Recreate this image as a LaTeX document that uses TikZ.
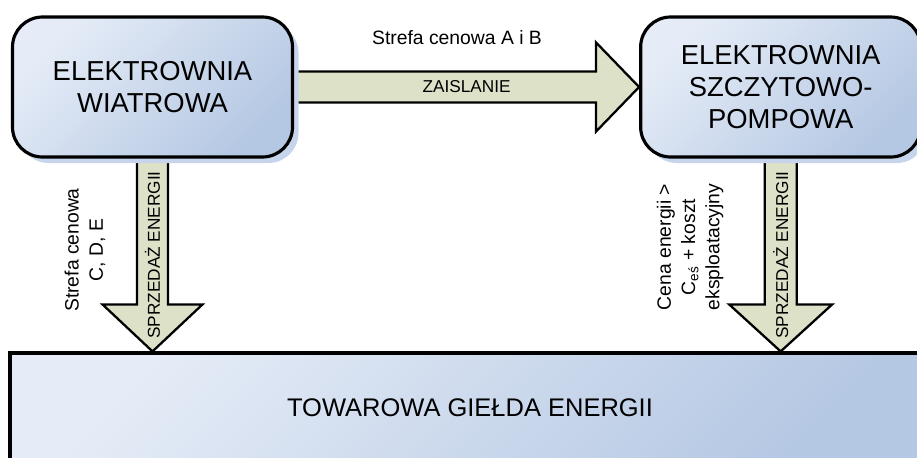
\documentclass[tikz,border=0pt]{standalone}
\usepackage{fontspec}
\setmainfont{Liberation Sans}
\usetikzlibrary{positioning,calc,shadows,backgrounds}

\definecolor{boxlight}{RGB}{229,236,247}
\definecolor{boxdark}{RGB}{181,200,227}
\definecolor{arrowfill}{RGB}{221,225,199}
\definecolor{shadowblue}{RGB}{198,213,236}

\tikzset{
  plant/.style={draw, line width=1.8pt, rounded corners=0.6cm,
    minimum width=5.6cm, minimum height=2.8cm, align=center,
    top color=boxlight, bottom color=boxdark, shading angle=45,
    font=\fontsize{15.6}{18}\selectfont,
    drop shadow={shadow xshift=0.12cm, shadow yshift=-0.12cm,
      fill=shadowblue, opacity=1}},
  market/.style={draw, line width=1.8pt, minimum width=18.4cm,
    minimum height=2.2cm, top color=boxlight, bottom color=boxdark,
    shading angle=45, font=\fontsize{14.5}{17}\selectfont},
  flow/.style={draw, line width=1.3pt, fill=arrowfill, line join=miter},
  note/.style={align=center, font=\fontsize{11}{13.8}\selectfont},
  tag/.style={font=\fontsize{9.8}{12}\selectfont}
}

\begin{document}
\begin{tikzpicture}
    \useasboundingbox (0,0) rectangle (18.34,-9.14);
    % power plants and the exchange
    \node[plant] (wind) at (3.05,-1.74) {ELEKTROWNIA\\WIATROWA};
    \node[plant, right=6.9cm of wind] (pump) {ELEKTROWNIA\\SZCZYTOWO-\\POMPOWA};
    \node[market] (tge) at (9.4,-8.16) {TOWAROWA GIEŁDA ENERGII};
    \coordinate (tipL) at (wind.south |- tge.north);
    \coordinate (tipR) at (pump.south |- tge.north);
    % block arrows
    \begin{pgfonlayer}{background}
    \draw[flow] ([yshift=0.31cm]wind.east) -- ([xshift=-0.86cm,yshift=0.31cm]pump.west)
        -- ([xshift=-0.86cm,yshift=0.89cm]pump.west) -- (pump.west)
        -- ([xshift=-0.86cm,yshift=-0.89cm]pump.west) -- ([xshift=-0.86cm,yshift=-0.31cm]pump.west)
        -- ([yshift=-0.31cm]wind.east) -- cycle;
    \draw[flow] ([xshift=-0.31cm]wind.south) -- ([xshift=-0.31cm,yshift=0.94cm]tipL)
        -- ([xshift=-1cm,yshift=0.94cm]tipL) -- (tipL)
        -- ([xshift=1cm,yshift=0.94cm]tipL) -- ([xshift=0.31cm,yshift=0.94cm]tipL)
        -- ([xshift=0.31cm]wind.south) -- cycle;
    \draw[flow] ([xshift=-0.32cm]pump.south) -- ([xshift=-0.32cm,yshift=0.94cm]tipR)
        -- ([xshift=-1.03cm,yshift=0.94cm]tipR) -- (tipR)
        -- ([xshift=1.03cm,yshift=0.94cm]tipR) -- ([xshift=0.32cm,yshift=0.94cm]tipR)
        -- ([xshift=0.32cm]pump.south) -- cycle;
    \end{pgfonlayer}
    % labels
    \node[tag] (hedge) at ($(wind.east)!0.5!(pump.west)$) {ZAISLANIE};
    \node[tag, rotate=90] (sellL) at ($(wind.south)!0.5!(tipL)$) {SPRZEDAŻ ENERGII};
    \node[tag, rotate=90] (sellR) at ($(pump.south)!0.5!(tipR)$) {SPRZEDAŻ ENERGII};
    \node[note] (zoneAB) at (9.14,-0.76) {Strefa cenowa A i B};
    \node[note, rotate=90] (zoneCDE) at (1.7,-5.0) {Strefa cenowa\\C, D, E};
    \node[note, rotate=90] (price) at (13.8,-4.94)
        {Cena energii >\\C\textsubscript{eś} + koszt\\eksploatacyjny};
\end{tikzpicture}
\end{document}
